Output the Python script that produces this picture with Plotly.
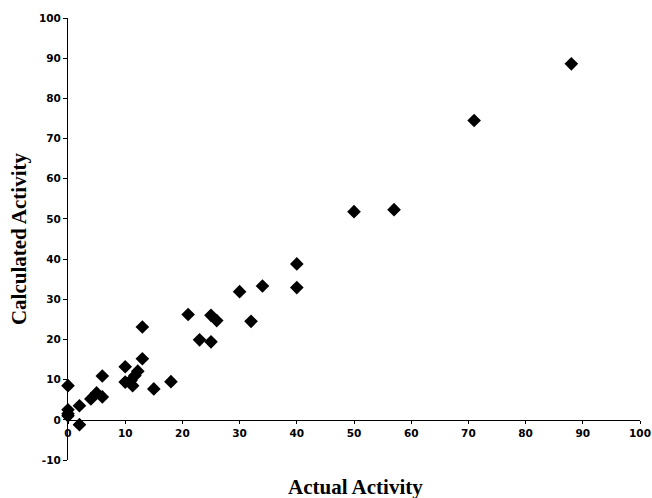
import plotly.graph_objects as go

actual = [0, 0, 0, 0, 2, 2, 4, 5, 6, 6, 10, 10, 11, 11.3, 11.7, 12.2, 13, 13, 15, 18,
          21, 23, 25, 25, 26, 30, 32, 34, 40, 40, 50, 57, 71, 88]
calculated = [8.5, 2.5, 1.5, 1.0, 3.5, -1.2, 5.2, 6.7, 5.7, 10.9, 13.2, 9.4, 9.8, 8.5, 11, 12.1,
              15.2, 23.1, 7.7, 9.5, 26.2, 19.9, 19.4, 26.0, 24.7, 31.9, 24.5, 33.3, 38.8, 32.9,
              51.8, 52.3, 74.5, 88.6]
x_ticks = [0, 10, 20, 30, 40, 50, 60, 70, 80, 90, 100]
y_ticks = [-10, 0, 10, 20, 30, 40, 50, 60, 70, 80, 90, 100]
y_tick_labels = ["-10", "0", "10", "20", "30", "40", "50", "60", "70", "80", "90", "100"]
x_title = "Actual Activity"
y_title = "Calculated Activity"

fig = go.Figure(go.Scatter(
    x=actual, y=calculated, mode="markers",
    marker=dict(symbol="diamond", size=10.5, color="black", line=dict(width=0)),
    cliponaxis=False, showlegend=False))

tickfont = dict(family="DejaVu Sans", size=10.5, color="black", weight="bold")
y_lo, y_hi = -10, 100
fig.update_layout(
    width=652, height=498,
    margin=dict(l=68, r=12, t=18, b=38, autoexpand=False),
    plot_bgcolor="white", paper_bgcolor="white",
    xaxis=dict(range=[0, 100], tickvals=x_ticks, showgrid=False, zeroline=False,
               showline=True, linecolor="black", linewidth=1.2,
               ticks="outside", ticklen=3, tickcolor="black",
               tickfont=tickfont, anchor="free", automargin=False,
               position=(0 - y_lo) / (y_hi - y_lo)),
    yaxis=dict(range=[y_lo, y_hi], tickvals=y_ticks, ticktext=y_tick_labels,
               showgrid=False, zeroline=False,
               showline=True, linecolor="black", linewidth=1.2,
               ticks="outside", ticklen=4, tickcolor="black",
               tickfont=tickfont, automargin=False),
    annotations=[
        dict(text=x_title, xref="paper", yref="paper", x=0.502, y=-0.061,
             showarrow=False, xanchor="center", yanchor="middle",
             font=dict(family="Liberation Serif", size=21, color="black", weight="bold")),
        dict(text=y_title, xref="paper", yref="paper", x=-0.0857, y=0.502,
             showarrow=False, xanchor="center", yanchor="middle", textangle=-90,
             font=dict(family="Liberation Serif", size=21, color="black", weight="bold")),
    ],
)
fig.write_html("out.html")
